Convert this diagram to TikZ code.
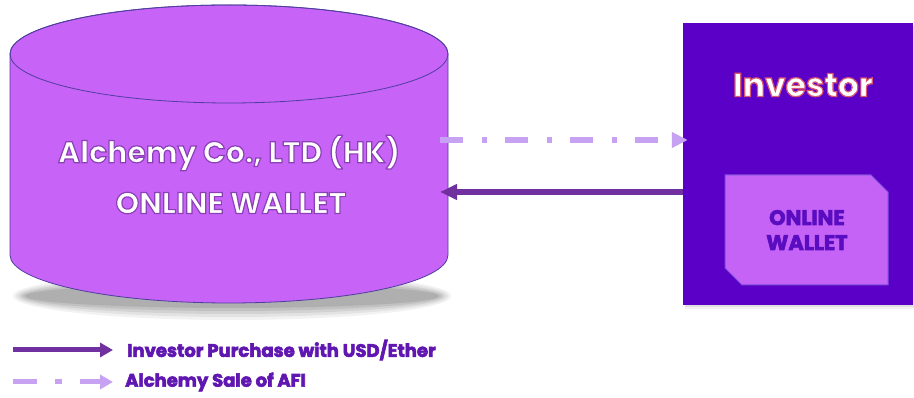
\documentclass[tikz,border=0pt]{standalone}
\usepackage{fontspec}
\setmainfont{Poppins}
\usetikzlibrary{arrows.meta}
\definecolor{cylfill}{HTML}{C763F7}
\definecolor{cylline}{HTML}{4F3EA0}
\definecolor{invfill}{HTML}{5B00C6}
\definecolor{walfill}{HTML}{C563F6}
\definecolor{walline}{HTML}{7B4FD8}
\definecolor{waltext}{HTML}{5A0CC0}
\definecolor{dasharr}{HTML}{C7A2F2}
\definecolor{solarr}{HTML}{7030A0}
\definecolor{legtext}{HTML}{6016B0}
\newcommand\outlinedtext[3]{\special{pdf:literal direct 2 Tr #1 w #2 RG}#3\special{pdf:literal direct 0 Tr 0.4 w}}
\tikzset{
  bigtext/.style={text=white, font=\bfseries\fontsize{30}{34}\selectfont, inner sep=0pt},
  waltxt/.style={text=waltext, font=\bfseries\fontsize{21}{25}\selectfont, align=center, inner sep=0pt},
  legtxt/.style={text=legtext, font=\bfseries\fontsize{18}{20}\selectfont, anchor=west, inner sep=0pt},
  dasharrow/.style={draw=dasharr, line width=6pt, dash pattern=on 23pt off 19pt on 5pt off 18pt,
     -{Triangle[length=16pt,width=15pt,fill=dasharr]}},
  solidarrow/.style={draw=solarr, line width=6pt, -{Triangle[length=17pt,width=15pt]}},
  legdash/.style={draw=dasharr, line width=5pt, dash pattern=on 24pt off 18pt on 7pt off 18pt,
     -{Triangle[length=13pt,width=14pt,fill=dasharr]}},
  legsolid/.style={draw=solarr, line width=5pt, -{Triangle[length=13pt,width=14pt]}},
}
\begin{document}
\begin{tikzpicture}[x=1pt,y=1pt]
\useasboundingbox (0,0) rectangle (914,398);
\fill[white] (0,0) rectangle (914,398);
% cylinder shadow
\foreach \r/\o in {14/0.05,11/0.06,8/0.07,5/0.08,2/0.09}{
  \fill[black,opacity=\o] (232,102) ellipse[x radius={205+\r}, y radius={10+\r}];
}
% cylinder
\path[fill=cylfill, draw=cylline, line width=0.8pt]
  (10,344) -- (10,143) arc[start angle=180, end angle=360, x radius=219, y radius=48]
  -- (448,344) arc[start angle=0, end angle=180, x radius=219, y radius=49] -- cycle;
\draw[cylline, line width=0.8pt] (229,344) ellipse[x radius=219, y radius=49];
% investor box shadow
\foreach \r/\o in {3/0.05,1.5/0.07}{
  \fill[black,opacity=\o] (685,92-\r) rectangle (916,372);
}
\node[fill=invfill, minimum width=230pt, minimum height=282pt, inner sep=0pt] (inv) at (798,234) {};
% wallet
\path[fill=walfill, draw=walline, line width=1pt]
  (725,223) -- (871,223) -- (888,206) -- (888,113) -- (742,113) -- (725,130) -- cycle;
% arrows
\coordinate (d1) at (440,258);
\coordinate (s1) at (440,206);
\draw[dasharrow, shorten >=-5pt] (d1) -- (d1 -| inv.west);
\draw[solidarrow] (s1 -| inv.west) -- (s1);
% legend arrows
\coordinate (l1) at (13,48);
\coordinate (l2) at (13,16);
\coordinate (l1e) at (113,48);
\coordinate (l2e) at (113,16);
\draw[legsolid] (l1) -- (l1e);
\draw[legdash] (l2) -- (l2e);
% texts (outlined, last)
\node[waltxt] (wal) at (807,168) {\outlinedtext{0.6}{0.353 0.047 0.753}{ONLINE\\WALLET}};
\node[legtxt] (lg1) at (127,48) {\outlinedtext{0.6}{0.376 0.086 0.69}{Investor Purchase with USD/Ether}};
\node[legtxt] (lg2) at (125,16) {\outlinedtext{0.6}{0.376 0.086 0.69}{Alchemy Sale of AFI}};
\node[bigtext] (cyltop) at (229,245) {\outlinedtext{1.2}{0.55 0.25 0.72}{Alchemy Co., LTD (HK)}};
\node[bigtext] (cylbot) at (231,195) {\outlinedtext{1.2}{0.55 0.25 0.72}{ONLINE WALLET}};
\node[text=white, font=\bfseries\fontsize{33}{40}\selectfont, inner sep=0pt] (invt) at (803,313) {\outlinedtext{1.2}{0.85 0.35 0.45}{Investor}};
\end{tikzpicture}
\end{document}
